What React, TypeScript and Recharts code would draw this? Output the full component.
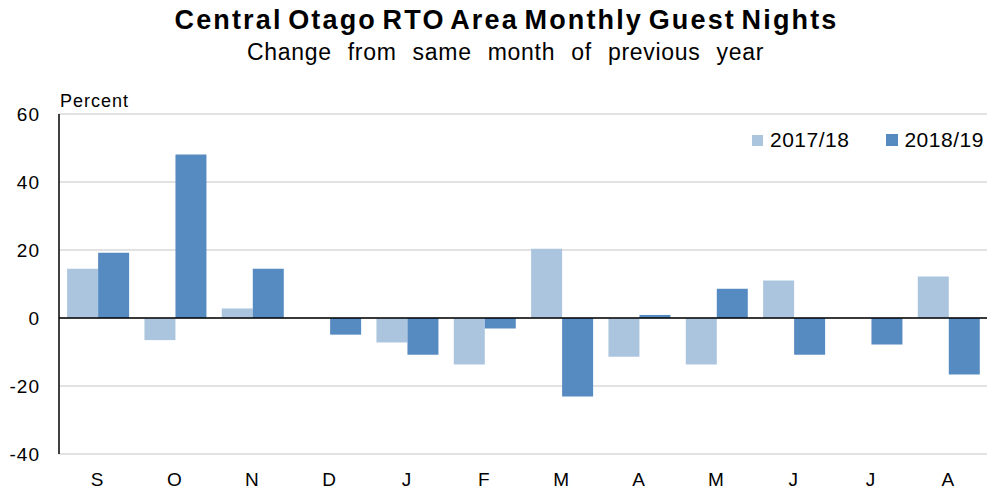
import React from 'react';
import { Bar, BarChart, CartesianGrid, ReferenceLine, XAxis, YAxis } from 'recharts';

const months = ['S', 'O', 'N', 'D', 'J', 'F', 'M', 'A', 'M', 'J', 'J', 'A'];
const change1718 = [14.5, -6.5, 2.8, 0, -7.2, -13.7, 20.4, -11.4, -13.7, 11.0, 0, 12.2];
const change1819 = [19.2, 48.1, 14.5, -4.9, -10.8, -3.1, -23.1, 0.9, 8.6, -10.8, -7.8, -16.6];
const yTicks = [-40, -20, 0, 20, 40, 60];

const LIGHT = '#abc5df';
const DARK = '#568bc1';
const FONT = '"Liberation Sans", Arial, sans-serif';

const data = months.map((month, i) => ({
  month,
  a: change1718[i],
  b: change1819[i],
}));

const tickStyle = { fontSize: 19, fill: '#000', fontFamily: FONT, letterSpacing: 1 };

export default function App() {
  return (
    <div style={{ position: 'absolute', left: 0, top: 0, width: 987, height: 495, background: '#fff', fontFamily: FONT }}>
      <div style={{ position: 'absolute', top: 5, left: 13, width: 987, textAlign: 'center', fontSize: 27, fontWeight: 'bold', color: '#000', letterSpacing: 2.15, wordSpacing: -4, whiteSpace: 'nowrap' }}>
        Central Otago RTO Area Monthly Guest Nights
      </div>
      <div style={{ position: 'absolute', top: 39, left: 12, width: 987, textAlign: 'center', fontSize: 23, color: '#000', letterSpacing: 0.7, wordSpacing: 9, whiteSpace: 'nowrap' }}>
        Change from same month of previous year
      </div>
      <div style={{ position: 'absolute', top: 91, left: 60, fontSize: 18, color: '#000', letterSpacing: 1 }}>Percent</div>
      <div style={{ position: 'absolute', top: 128, left: 752, display: 'flex', alignItems: 'center', fontSize: 21, color: '#000', letterSpacing: 0.5 }}>
        <span style={{ width: 11, height: 11, background: LIGHT, marginRight: 7 }} />
        <span style={{ marginRight: 37 }}>2017/18</span>
        <span style={{ width: 12, height: 12, background: DARK, marginRight: 6 }} />
        <span>2018/19</span>
      </div>
      <BarChart
        width={987}
        height={495}
        data={data}
        margin={{ top: 114, right: 0, bottom: 11, left: 14 }}
        barCategoryGap="10.5%"
        barGap={0}
      >
        <CartesianGrid horizontal vertical={false} stroke="#d9d9d9" strokeWidth={1.5} />
        <XAxis
          dataKey="month"
          height={30}
          axisLine={false}
          tickLine={false}
          tickMargin={13}
          tick={tickStyle}
          interval={0}
        />
        <YAxis
          width={45}
          domain={[-40, 60]}
          ticks={yTicks}
          allowDataOverflow
          axisLine={{ stroke: '#000', strokeWidth: 1.5 }}
          tickLine={false}
          tickMargin={13}
          tick={tickStyle}
        />
        <Bar dataKey="a" name="2017/18" fill={LIGHT} isAnimationActive={false} />
        <Bar dataKey="b" name="2018/19" fill={DARK} isAnimationActive={false} />
        <ReferenceLine y={0} stroke="#000" strokeWidth={1.5} />
      </BarChart>
    </div>
  );
}
